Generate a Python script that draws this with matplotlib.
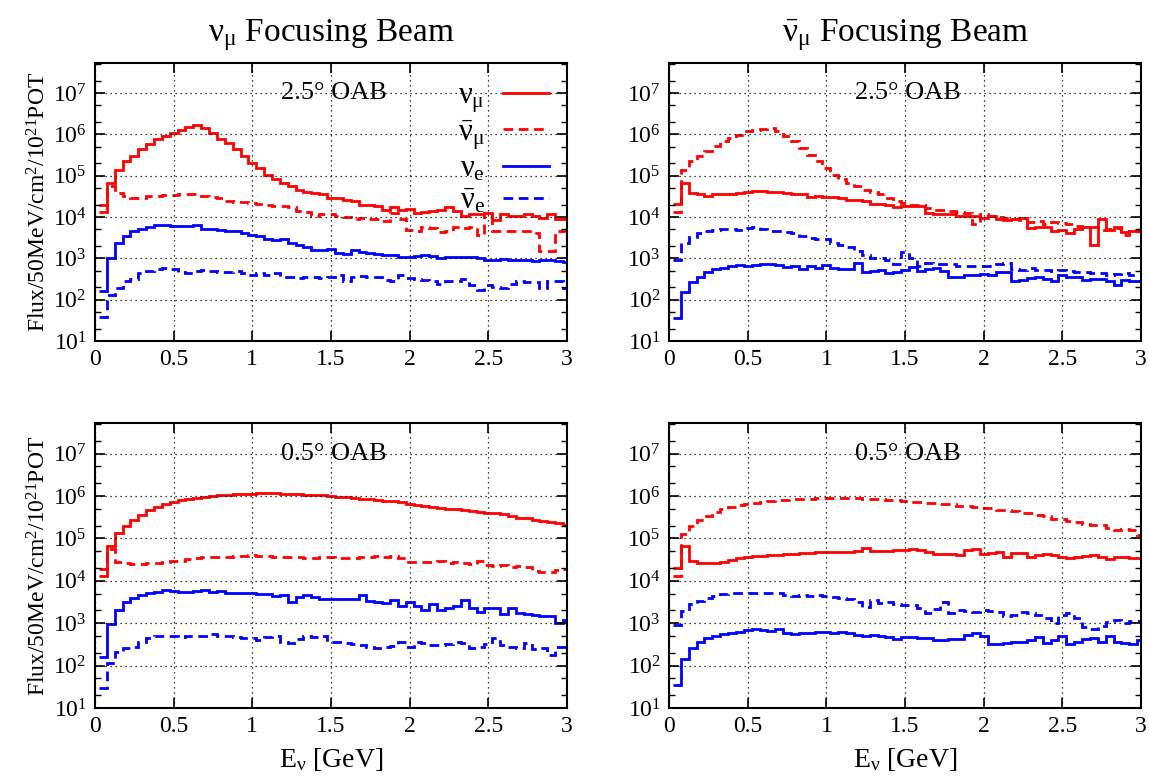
import numpy as np
import matplotlib
matplotlib.use("Agg")
import matplotlib.pyplot as plt
from matplotlib.ticker import LogLocator, NullFormatter, MultipleLocator

# ─── Data: flux per 50 MeV bin, points at E = 0.05 ... 3.00 GeV ──────────────

E_STEP = 0.05
N_BINS = 60

# nu_mu focusing beam, 2.5 deg off-axis
TL_NUMU = [1.3e4, 6.6e4, 1.4e5, 2.2e5, 3.0e5, 4.5e5, 5.9e5, 7.5e5, 9.3e5, 1.07e6,
           1.3e6, 1.5e6, 1.65e6, 1.45e6, 1.1e6, 7.8e5, 6.2e5, 4.3e5, 3.0e5, 2.0e5,
           1.55e5, 1.05e5, 8.3e4, 6.6e4, 5.5e4, 4.6e4, 4.0e4, 3.8e4, 3.5e4, 2.9e4,
           2.9e4, 2.6e4, 2.4e4, 2.0e4, 1.9e4, 1.8e4, 1.5e4, 1.75e4, 1.5e4, 1.55e4,
           1.25e4, 1.3e4, 1.4e4, 1.5e4, 1.7e4, 1.4e4, 1.05e4, 1.15e4, 1.2e4, 1.25e4,
           8.3e3, 1.2e4, 1.07e4, 1.05e4, 1.15e4, 1.05e4, 9.5e3, 1.15e4, 8.7e3, 8.7e3]
TL_NUMUBAR = [2.0e4, 5.5e4, 3.8e4, 3.2e4, 2.9e4, 2.95e4, 3.2e4, 3.3e4, 3.4e4, 3.4e4,
              3.5e4, 3.5e4, 3.5e4, 3.3e4, 3.0e4, 2.8e4, 2.4e4, 2.3e4, 2.3e4, 2.2e4,
              2.1e4, 1.9e4, 1.8e4, 1.8e4, 1.75e4, 1.4e4, 1.3e4, 1.07e4, 1.15e4, 1.2e4,
              1.05e4, 1.0e4, 8.7e3, 9.5e3, 9.0e3, 8.7e3, 7.9e3, 1.25e4, 8.7e3, 4.9e3,
              4.7e3, 5.8e3, 5.4e3, 4.3e3, 4.5e3, 5.8e3, 5.4e3, 5.8e3, 3.7e3, 1.25e4,
              4.7e3, 4.7e3, 4.5e3, 4.7e3, 4.5e3, 4.1e3, 1.5e3, 1.5e3, 4.5e3, 4.5e3]
TL_NUE = [1.6e2, 1.0e3, 2.35e3, 3.4e3, 4.5e3, 5.1e3, 5.8e3, 6.3e3, 6.3e3, 6.2e3,
          6.1e3, 6.0e3, 6.5e3, 5.1e3, 5.2e3, 4.9e3, 4.7e3, 4.5e3, 4.1e3, 3.6e3,
          3.5e3, 3.0e3, 2.7e3, 2.9e3, 2.35e3, 2.05e3, 1.9e3, 1.6e3, 1.6e3, 1.7e3,
          1.35e3, 1.3e3, 1.6e3, 1.4e3, 1.35e3, 1.3e3, 1.2e3, 1.18e3, 1.1e3, 1.1e3,
          1.15e3, 1.2e3, 1.15e3, 1.0e3, 1.05e3, 1.05e3, 1.1e3, 1.05e3, 1.0e3, 9.3e2,
          9.3e2, 9.7e2, 9.3e2, 9.3e2, 9.0e2, 8.7e2, 8.9e2, 9.0e2, 8.7e2, 8.1e2]
TL_NUEBAR = [38, 130, 190, 280, 320, 450, 490, 540, 590, 540,
             460, 450, 490, 510, 490, 470, 460, 490, 450, 400,
             450, 400, 450, 360, 360, 330, 350, 360, 330, 360,
             400, 280, 360, 380, 360, 350, 300, 280, 400, 330,
             320, 300, 280, 240, 280, 290, 320, 230, 170, 220,
             200, 190, 240, 280, 270, 260, 190, 280, 280, 190]

# anti-nu_mu focusing beam, 2.5 deg off-axis
TR_NUMU = [2.1e4, 6.6e4, 3.8e4, 3.5e4, 3.3e4, 3.5e4, 3.5e4, 3.6e4, 3.8e4, 4.0e4,
           4.2e4, 4.2e4, 4.0e4, 4.0e4, 3.8e4, 3.6e4, 3.5e4, 3.0e4, 3.2e4, 3.0e4,
           3.0e4, 2.9e4, 2.6e4, 2.6e4, 2.4e4, 2.1e4, 2.1e4, 2.0e4, 1.75e4, 1.8e4,
           1.8e4, 1.8e4, 1.25e4, 1.15e4, 1.15e4, 1.2e4, 1.07e4, 1.05e4, 1.07e4, 9.5e3,
           1.05e4, 9.0e3, 8.3e3, 8.7e3, 9.5e3, 5.4e3, 5.8e3, 5.8e3, 4.7e3, 4.9e3,
           4.0e3, 5.1e3, 5.8e3, 2.1e3, 8.7e3, 4.9e3, 5.8e3, 4.3e3, 4.5e3, 4.5e3]
TR_NUMUBAR = [1.3e4, 1.4e5, 2.2e5, 3.0e5, 3.9e5, 5.1e5, 6.8e5, 8.2e5, 9.8e5, 1.17e6,
              1.25e6, 1.35e6, 1.42e6, 1.17e6, 9.0e5, 6.8e5, 4.7e5, 3.2e5, 2.2e5, 1.55e5,
              1.05e5, 8.3e4, 6.6e4, 5.5e4, 4.6e4, 4.0e4, 3.5e4, 2.9e4, 2.4e4, 2.2e4,
              2.0e4, 2.0e4, 1.65e4, 1.5e4, 1.45e4, 1.4e4, 1.3e4, 1.25e4, 6.9e3, 1.15e4,
              1.05e4, 1.0e4, 9.5e3, 9.0e3, 8.3e3, 7.5e3, 7.9e3, 6.9e3, 7.5e3, 7.2e3,
              6.9e3, 6.2e3, 5.8e3, 5.7e3, 4.9e3, 5.1e3, 5.4e3, 3.7e3, 4.5e3, 4.5e3]
TR_NUE = [36, 150, 260, 360, 460, 540, 590, 650, 680, 650,
          680, 710, 710, 680, 620, 650, 560, 650, 590, 680,
          590, 560, 560, 750, 460, 490, 520, 450, 470, 520,
          620, 490, 540, 590, 490, 360, 360, 400, 390, 420,
          400, 460, 460, 280, 300, 330, 360, 320, 280, 390,
          350, 360, 300, 320, 320, 280, 230, 300, 280, 280]
TR_NUEBAR = [9.3e2, 2.3e3, 3.3e3, 4.0e3, 4.5e3, 4.9e3, 5.1e3, 5.2e3, 4.9e3, 5.4e3,
             5.6e3, 5.1e3, 4.7e3, 4.5e3, 4.3e3, 4.0e3, 3.4e3, 3.1e3, 3.0e3, 3.0e3,
             2.35e3, 2.05e3, 1.9e3, 1.5e3, 1.2e3, 1.0e3, 1.0e3, 9.3e2, 7.1e2, 1.4e3,
             1.0e3, 6.5e2, 7.9e2, 7.1e2, 7.4e2, 7.1e2, 6.5e2, 6.6e2, 6.6e2, 6.5e2,
             6.5e2, 7.1e2, 7.9e2, 5.5e2, 5.3e2, 5.8e2, 5.3e2, 5.2e2, 4.9e2, 5.2e2,
             4.9e2, 4.6e2, 4.6e2, 4.5e2, 4.5e2, 4.0e2, 4.2e2, 4.5e2, 4.0e2, 4.0e2]

# nu_mu focusing beam, 0.5 deg off-axis
BL_NUMU = [1.3e4, 6.6e4, 1.35e5, 1.95e5, 2.7e5, 3.5e5, 4.6e5, 5.6e5, 6.6e5, 7.3e5,
           8.0e5, 8.6e5, 9.1e5, 9.5e5, 1.0e6, 1.04e6, 1.07e6, 1.1e6, 1.1e6, 1.13e6,
           1.15e6, 1.15e6, 1.15e6, 1.13e6, 1.12e6, 1.1e6, 1.08e6, 1.06e6, 1.04e6, 1.0e6,
           9.5e5, 9.5e5, 9.2e5, 8.7e5, 8.5e5, 8.0e5, 7.8e5, 7.6e5, 7.3e5, 6.6e5,
           6.3e5, 5.9e5, 5.5e5, 5.2e5, 5.0e5, 4.9e5, 4.6e5, 4.4e5, 4.2e5, 4.0e5,
           3.9e5, 3.7e5, 3.4e5, 3.1e5, 3.0e5, 2.7e5, 2.6e5, 2.5e5, 2.3e5, 2.1e5]
BL_NUMUBAR = [1.95e4, 5.5e4, 2.8e4, 2.6e4, 2.5e4, 2.5e4, 2.6e4, 2.7e4, 2.8e4, 3.0e4,
              3.0e4, 3.2e4, 3.4e4, 3.6e4, 3.6e4, 3.7e4, 3.7e4, 3.8e4, 3.9e4, 4.0e4,
              3.9e4, 3.8e4, 3.7e4, 3.7e4, 3.6e4, 3.6e4, 3.4e4, 3.4e4, 3.7e4, 3.6e4,
              3.4e4, 3.4e4, 3.4e4, 3.6e4, 3.6e4, 3.8e4, 3.6e4, 3.8e4, 3.4e4, 2.8e4,
              2.8e4, 2.8e4, 2.8e4, 2.95e4, 2.7e4, 2.8e4, 2.7e4, 2.5e4, 2.95e4, 2.35e4,
              2.2e4, 2.35e4, 2.1e4, 2.2e4, 2.15e4, 1.75e4, 1.65e4, 1.65e4, 1.8e4, 1.95e4]
BL_NUE = [160, 950, 2.0e3, 3.1e3, 3.9e3, 4.6e3, 5.1e3, 5.6e3, 6.1e3, 5.8e3,
          5.6e3, 5.6e3, 5.9e3, 6.1e3, 5.6e3, 5.9e3, 5.3e3, 5.3e3, 5.1e3, 5.3e3,
          4.9e3, 4.8e3, 4.4e3, 4.6e3, 3.1e3, 4.2e3, 4.6e3, 4.1e3, 3.7e3, 3.7e3,
          3.7e3, 3.8e3, 3.8e3, 4.6e3, 3.3e3, 3.2e3, 3.0e3, 3.5e3, 2.5e3, 3.1e3,
          2.6e3, 2.05e3, 2.8e3, 2.05e3, 2.3e3, 2.6e3, 3.5e3, 2.3e3, 1.85e3, 2.3e3,
          2.3e3, 1.65e3, 2.3e3, 1.7e3, 1.65e3, 1.6e3, 1.45e3, 1.45e3, 1.0e3, 1.2e3]
BL_NUEBAR = [30, 118, 210, 260, 280, 370, 450, 490, 510, 490,
             470, 490, 490, 510, 560, 510, 490, 470, 450, 440,
             410, 470, 490, 370, 350, 420, 490, 470, 490, 370,
             370, 350, 320, 310, 280, 260, 280, 290, 370, 270,
             370, 340, 310, 300, 320, 370, 350, 260, 270, 320,
             440, 310, 280, 260, 340, 250, 260, 180, 280, 280]

# anti-nu_mu focusing beam, 0.5 deg off-axis
BR_NUMU = [2.0e4, 6.6e4, 3.0e4, 2.7e4, 2.7e4, 2.7e4, 2.8e4, 3.1e4, 3.4e4, 3.7e4,
           3.8e4, 3.9e4, 4.0e4, 4.1e4, 4.2e4, 4.4e4, 4.5e4, 4.5e4, 4.8e4, 4.8e4,
           4.8e4, 4.9e4, 4.9e4, 5.0e4, 5.8e4, 5.0e4, 5.0e4, 5.0e4, 5.2e4, 5.2e4,
           5.5e4, 5.2e4, 4.9e4, 4.3e4, 4.4e4, 4.4e4, 4.0e4, 5.3e4, 5.6e4, 4.4e4,
           4.6e4, 4.7e4, 3.7e4, 4.5e4, 4.5e4, 3.6e4, 4.0e4, 4.2e4, 4.0e4, 3.7e4,
           3.4e4, 3.6e4, 3.9e4, 4.0e4, 3.6e4, 3.2e4, 3.6e4, 3.7e4, 3.4e4, 3.4e4]
BR_NUMUBAR = [1.3e4, 1.3e5, 1.95e5, 2.7e5, 3.4e5, 4.3e5, 4.9e5, 5.6e5, 6.1e5, 6.6e5,
              7.0e5, 7.4e5, 7.7e5, 7.9e5, 8.2e5, 8.4e5, 8.7e5, 8.7e5, 9.0e5, 9.2e5,
              9.2e5, 9.2e5, 9.0e5, 8.9e5, 8.7e5, 8.6e5, 8.4e5, 8.2e5, 8.0e5, 7.7e5,
              7.3e5, 7.3e5, 7.0e5, 6.9e5, 6.4e5, 6.4e5, 5.9e5, 5.9e5, 5.6e5, 5.1e5,
              5.1e5, 4.6e5, 4.6e5, 4.4e5, 4.0e5, 4.0e5, 3.55e5, 3.4e5, 2.95e5, 2.95e5,
              2.6e5, 2.45e5, 2.2e5, 2.05e5, 2.05e5, 1.8e5, 1.6e5, 1.7e5, 1.6e5, 1.2e5]
BR_NUE = [35, 145, 260, 370, 440, 500, 560, 590, 630, 690,
          720, 690, 660, 720, 590, 560, 590, 590, 630, 610,
          590, 630, 590, 530, 500, 530, 500, 480, 420, 480,
          470, 450, 450, 410, 410, 420, 420, 540, 580, 490,
          320, 320, 350, 360, 360, 400, 470, 340, 400, 500,
          320, 360, 420, 450, 360, 490, 360, 340, 320, 410]
BR_NUEBAR = [9.1e2, 1.9e3, 2.9e3, 3.4e3, 3.9e3, 4.4e3, 4.8e3, 5.2e3, 5.3e3, 5.2e3,
             5.2e3, 5.3e3, 5.3e3, 5.2e3, 4.6e3, 4.4e3, 4.6e3, 4.4e3, 4.6e3, 4.4e3,
             4.2e3, 3.9e3, 3.7e3, 3.1e3, 2.4e3, 3.6e3, 3.0e3, 3.2e3, 2.8e3, 2.7e3,
             2.7e3, 2.3e3, 1.7e3, 2.2e3, 3.2e3, 1.7e3, 2.0e3, 1.9e3, 1.8e3, 2.0e3,
             1.95e3, 1.8e3, 1.5e3, 1.55e3, 1.8e3, 1.7e3, 1.6e3, 1.3e3, 1.0e3, 1.6e3,
             1.7e3, 1.3e3, 8.1e2, 7.3e2, 8.4e2, 1.05e3, 1.2e3, 1.0e3, 1.1e3, 1.1e3]

PANELS = [
    # (row, col, OAB label, numu, numubar, nue, nuebar)
    (0, 0, "2.5° OAB", TL_NUMU, TL_NUMUBAR, TL_NUE, TL_NUEBAR),
    (0, 1, "2.5° OAB", TR_NUMU, TR_NUMUBAR, TR_NUE, TR_NUEBAR),
    (1, 0, "0.5° OAB", BL_NUMU, BL_NUMUBAR, BL_NUE, BL_NUEBAR),
    (1, 1, "0.5° OAB", BR_NUMU, BR_NUMUBAR, BR_NUE, BR_NUEBAR),
]

TITLES = [r"$\nu_\mu$ Focusing Beam", r"$\bar{\nu}_\mu$ Focusing Beam"]
LABELS = [r"$\nu_\mu$", r"$\bar{\nu}_\mu$", r"$\nu_e$", r"$\bar{\nu}_e$"]
DASH = (0, (3.5, 2))
STYLES = [("red", "-"), ("red", DASH), ("blue", "-"), ("blue", DASH)]

# ─── Style ────────────────────────────────────────────────────────────────────

matplotlib.rcParams.update({
    "font.family": "Liberation Serif",
    "mathtext.fontset": "custom",
    "mathtext.rm": "Liberation Serif",
    "mathtext.it": "Liberation Serif",
    "mathtext.bf": "Liberation Serif:bold",
    "axes.linewidth": 1.5,
    "xtick.direction": "in",
    "ytick.direction": "in",
    "xtick.top": True,
    "ytick.right": True,
    "xtick.labelsize": 17,
    "ytick.labelsize": 17,
})

# axes boxes in figure fractions: left, bottom, width, height
COL_X = [0.0827, 0.5823]
ROW_Y = [0.5634, 0.0935]
AX_W = 0.4108
AX_H = [0.3559, 0.3649]


def draw_panel(ax, label, series, legend):
    edges = (np.arange(N_BINS + 1) + 0.5) * E_STEP
    for vals, lab, (col, ls) in zip(series, LABELS, STYLES):
        ax.stairs(vals, edges, baseline=None, color=col, linestyle=ls,
                  linewidth=2.0, label=lab)

    ax.set_yscale("log")
    ax.set_xlim(0, 3)
    ax.set_ylim(10, 5.3e7)
    ax.xaxis.set_major_locator(MultipleLocator(0.5))
    ax.yaxis.set_major_locator(LogLocator(base=10, numticks=20))
    ax.yaxis.set_minor_locator(LogLocator(base=10, subs=(2.0, 5.0), numticks=20))
    ax.yaxis.set_minor_formatter(NullFormatter())
    ax.xaxis.set_major_formatter(matplotlib.ticker.FuncFormatter(
        lambda v, _: f"{v:g}"))
    ax.tick_params(which="major", length=7, width=1.2, pad=6)
    ax.tick_params(which="minor", length=4, width=1.0)
    ax.grid(True, which="major", color="black", linestyle=(0, (1, 3)),
            linewidth=0.9)

    ax.text(1.52, 1.0e7, label, ha="center", va="center", fontsize=19)

    if legend:
        ax.legend(loc="upper right", frameon=False, markerfirst=False,
                  fontsize=22, handlelength=1.5, handletextpad=0.6,
                  labelspacing=0.1, borderaxespad=0.2)


def main():
    fig = plt.figure(figsize=(11.49, 7.81), dpi=100)

    for row, col, label, *series in PANELS:
        ax = fig.add_axes([COL_X[col], ROW_Y[row], AX_W, AX_H[row]])
        draw_panel(ax, label, series, legend=(row == 0 and col == 0))
        if row == 0:
            ax.set_title(TITLES[col], fontsize=24, pad=16)
        if row == 1:
            ax.set_xlabel(r"E$_\nu$ [GeV]", fontsize=20, labelpad=6)
        if col == 0:
            ax.set_ylabel(r"Flux/50MeV/cm$^2$/10$^{21}$POT", fontsize=17,
                          labelpad=2)

    fig.savefig("out.png", dpi=100)
    plt.close(fig)


if __name__ == "__main__":
    main()
